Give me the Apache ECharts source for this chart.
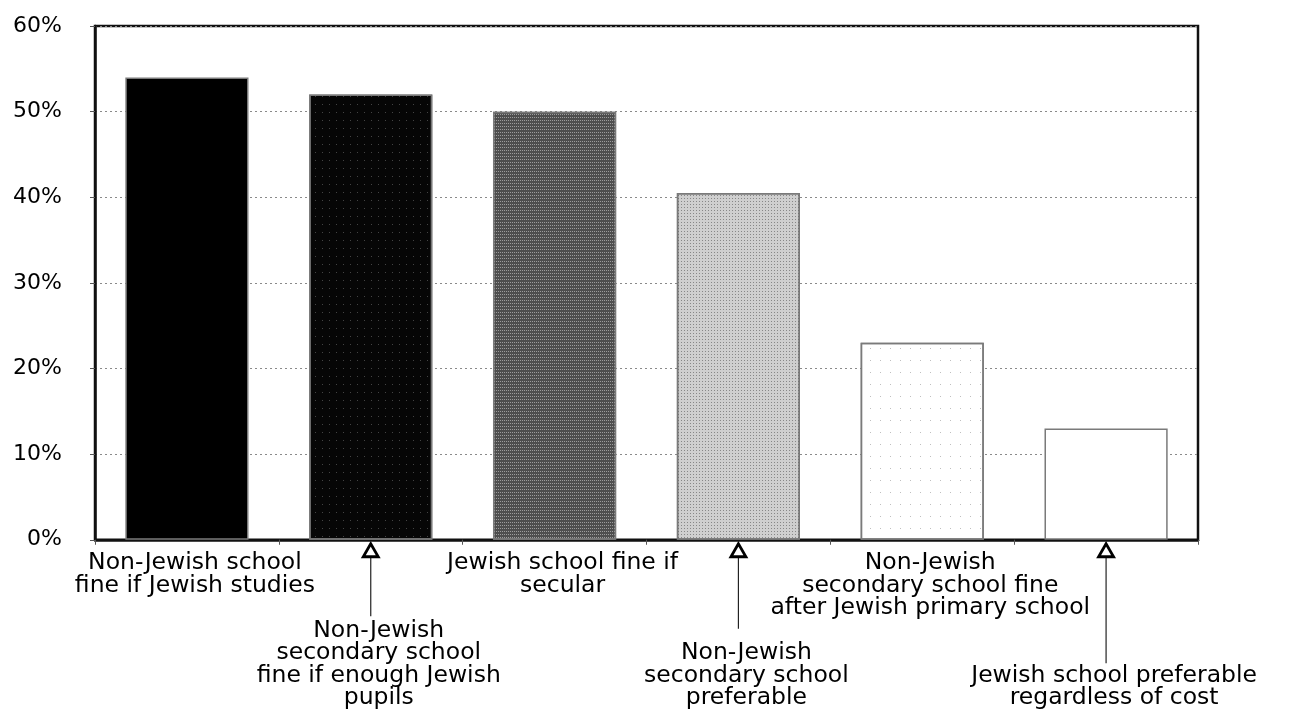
<!DOCTYPE html>
<html>
<head>
<meta charset="utf-8">
<script src="https://cdn.jsdelivr.net/npm/echarts@6/dist/echarts.min.js"></script>
<style>
  html, body { margin: 0; padding: 0; background: #ffffff; }
  #chart { width: 1293px; height: 710px; }
</style>
</head>
<body>
<div id="chart"></div>
<script>
// Attitudes to schooling: share of respondents agreeing with each statement
const categories = [
  'Non-Jewish school\nfine if Jewish studies',
  'Non-Jewish\nsecondary school\nfine if enough Jewish\npupils',
  'Jewish school fine if\nsecular',
  'Non-Jewish\nsecondary school\npreferable',
  'Non-Jewish\nsecondary school fine\nafter Jewish primary school',
  'Jewish school preferable\nregardless of cost'
];
const shares = [54, 52, 50, 40.5, 23, 13];

// Halftone-style fills, darkest to lightest
const barFills = ['#000000', '#060606', '#4e4e4e', '#cfcfcf', '#ffffff', '#ffffff'];
const barDots = [
  null,
  { color: 'rgba(255,255,255,0.25)', dashArrayX: [1, 6], dashArrayY: [1, 7] },
  { color: 'rgba(255,255,255,0.45)', dashArrayX: [1, 1], dashArrayY: [1, 2] },
  { color: 'rgba(0,0,0,0.35)', dashArrayX: [1, 2], dashArrayY: [1, 2] },
  { color: 'rgba(0,0,0,0.25)', dashArrayX: [1, 9], dashArrayY: [1, 11] },
  null
];

// Layout constants for the staggered category labels
const FONT = 'DejaVu Sans';
const LABEL_SIZE = 23.5;
const LINE_H = 22.5;
const LABEL_MARGIN = 12;
const LOWER_ROWS = 7;          // lower labels end on the same row
const leaderGap = { 1: 5, 3: 15, 5: 3 };

const lineCount = s => s.split('\n').length;
const leadBlanks = i => (i % 2 === 1) ? LOWER_ROWS - lineCount(categories[i]) : 0;

const chart = echarts.init(document.getElementById('chart'), null, { renderer: 'canvas' });

chart.setOption({
  backgroundColor: '#ffffff',
  animation: false,
  grid: {
    left: 95, right: 95, top: 26, bottom: 170,
    show: true, borderColor: '#111', borderWidth: 2.5, backgroundColor: 'transparent'
  },
  xAxis: {
    type: 'category',
    data: categories,
    axisLine: { lineStyle: { color: '#111', width: 2.5 } },
    axisTick: { show: true, length: 5, lineStyle: { color: '#555', width: 1 } },
    axisLabel: {
      interval: 0,
      margin: LABEL_MARGIN,
      color: '#000',
      fontFamily: FONT,
      fontSize: LABEL_SIZE,
      lineHeight: LINE_H,
      padding: [0, 0, 0, 16],
      formatter: (value, index) => '\n'.repeat(leadBlanks(index)) + value
    }
  },
  yAxis: {
    type: 'value',
    min: 0, max: 60, interval: 10,
    axisLine: { show: true, lineStyle: { color: '#111', width: 2.5 } },
    axisTick: { show: true, length: 5, lineStyle: { color: '#555', width: 1 } },
    axisLabel: {
      margin: 33,
      color: '#000',
      fontFamily: FONT,
      fontSize: 22,
      formatter: '{value}%'
    },
    splitLine: { show: true, lineStyle: { color: '#8a8a8a', width: 1, type: [2, 3] } }
  },
  series: [
    {
      type: 'bar',
      barWidth: '67%',
      data: shares.map((v, i) => {
        const style = { color: barFills[i], borderColor: '#7a7a7a', borderWidth: 1.5 };
        if (barDots[i]) {
          style.decal = Object.assign({ symbol: 'rect', symbolSize: 1, rotation: 0 }, barDots[i]);
        }
        return { value: v, itemStyle: style };
      }),
      z: 2
    },
    {
      // leader arrows that tie the lower labels to their bars
      type: 'custom',
      clip: false,
      silent: true,
      z: 5,
      data: categories.map((c, i) => [i, leadBlanks(i)]).filter(d => d[0] % 2 === 1),
      renderItem: (params, api) => {
        const idx = api.value(0);
        const blanks = api.value(1);
        const p = api.coord([idx, 0]);
        const x = p[0];
        const top = p[1] + 4;
        const base = top + 13;
        const labelTop = p[1] + LABEL_MARGIN + blanks * LINE_H + 2;
        const end = labelTop - leaderGap[idx];
        return {
          type: 'group',
          children: [
            {
              type: 'line',
              shape: { x1: x, y1: base, x2: x, y2: end },
              style: { stroke: '#222', lineWidth: 1.2 }
            },
            {
              type: 'polygon',
              shape: { points: [[x, top], [x - 7.5, base], [x + 7.5, base]] },
              style: { fill: '#fff', stroke: '#000', lineWidth: 2.8, lineJoin: 'miter' }
            }
          ]
        };
      }
    }
  ]
});
</script>
</body>
</html>
